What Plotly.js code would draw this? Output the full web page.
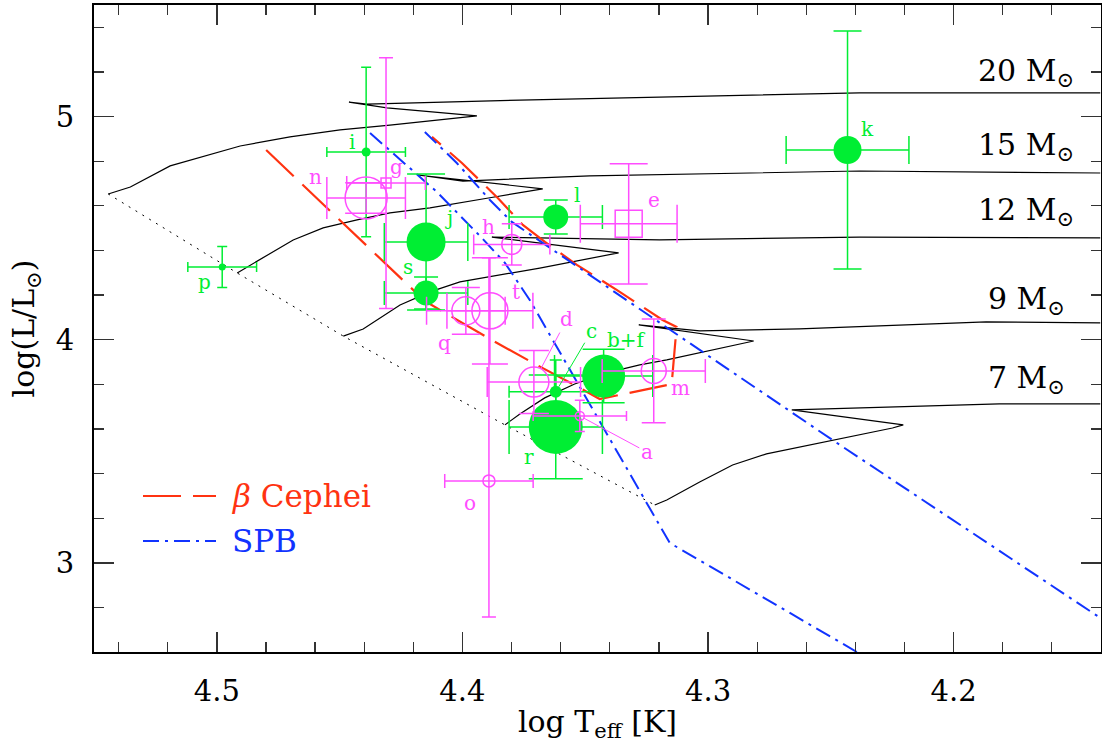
<!DOCTYPE html>
<html><head><meta charset="utf-8">
<script src="https://cdn.plot.ly/plotly-3.0.1.min.js"></script>
<style>html,body{margin:0;padding:0;background:#fff}#chart{width:1102px;height:743px}</style>
</head><body><div id="chart"></div>
<script>
// ===================== DATA =====================
// Evolutionary tracks (log Teff, log L/Lsun)
const track20T = [4.5442, 4.5352, 4.5190, 4.4905, 4.4702, 4.4498, 4.4295, 4.4173, 4.3941, 4.4307, 4.4462, 4.4389, 4.3766, 4.2383, 4.1403];
const track20L = [4.653, 4.684, 4.779, 4.868, 4.909, 4.940, 4.962, 4.976, 5.003, 5.039, 5.065, 5.056, 5.074, 5.106, 5.106];
const track15T = [4.4917, 4.4811, 4.4689, 4.4567, 4.4429, 4.4295, 4.4132, 4.3888, 4.3673, 4.4181, 4.3998, 4.3482, 4.2383, 4.1403];
const track15L = [4.299, 4.367, 4.447, 4.501, 4.537, 4.568, 4.591, 4.636, 4.676, 4.738, 4.711, 4.734, 4.756, 4.747];
const track12T = [4.4485, 4.4404, 4.4254, 4.4132, 4.4010, 4.3685, 4.3364, 4.3880, 4.3197, 4.2383, 4.1403];
const track12L = [4.016, 4.048, 4.155, 4.214, 4.259, 4.321, 4.389, 4.460, 4.447, 4.460, 4.456];
const track9T = [4.3827, 4.3766, 4.3665, 4.3543, 4.3413, 4.3278, 4.3168, 4.3034, 4.2843, 4.2814, 4.3282, 4.3034, 4.2628, 4.1868, 4.1403];
const track9L = [3.618, 3.667, 3.739, 3.801, 3.851, 3.887, 3.909, 3.940, 3.985, 3.994, 4.066, 4.039, 4.048, 4.080, 4.075];
const track7T = [4.3217, 4.3168, 4.3034, 4.2900, 4.2762, 4.2628, 4.2493, 4.2355, 4.2249, 4.2205, 4.2493, 4.2659, 4.1814, 4.1403];
const track7L = [3.259, 3.281, 3.362, 3.438, 3.488, 3.519, 3.550, 3.582, 3.604, 3.618, 3.662, 3.685, 3.712, 3.712];
const massLabels = ['20', '15', '12', '9', '7'];

// Instability strips
const betaCepT = [4.4799, 4.4153, 4.3888, 4.3713, 4.3522, 4.3441, 4.3148, 4.3128, 4.3185, 4.3372, 4.3534, 4.3664, 4.3754, 4.3856, 4.4002, 4.4124];
const betaCepL = [4.850, 4.173, 4.003, 3.896, 3.784, 3.734, 3.801, 4.057, 4.088, 4.223, 4.335, 4.438, 4.514, 4.635, 4.792, 4.909];
const spbHotT = [4.4376, 4.4104, 4.3921, 4.3827, 4.3726, 4.3156, 4.2394];
const spbHotL = [4.926, 4.662, 4.456, 4.344, 4.178, 3.089, 2.600];
const spbCoolT = [4.4153, 4.4023, 4.3888, 4.3799, 4.3034, 4.2493, 4.1403];
const spbCoolL = [4.931, 4.792, 4.626, 4.528, 3.954, 3.550, 2.753];

// Stars (green, filled)
const greenNames = ['i', 'j', 's', 'p', 'l', 'k', 'c', 'r', 'b+f'];
const greenT     = [4.4392, 4.4148, 4.4148, 4.4978, 4.3620, 4.2432, 4.3620, 4.3620, 4.3425];
const greenL     = [4.841, 4.438, 4.209, 4.326, 4.550, 4.850, 3.766, 3.609, 3.837];
const greenTerr  = [0.016, 0.017, 0.017, 0.014, 0.019, 0.025, 0.019, 0.019, 0.020];
const greenLerr  = [0.380, 0.305, 0.072, 0.092, 0.076, 0.533, 0.143, 0.233, 0.120];

// Stars (magenta, open)
const magNames   = ['n', 'g', 'h', 'e', 't', 'q', 'o', 'd', 'a', 'm'];
const magT       = [4.4392, 4.4311, 4.3799, 4.3323, 4.3888, 4.3986, 4.3892, 4.3709, 4.3522, 4.3221];
const magL       = [4.635, 4.702, 4.427, 4.519, 4.129, 4.129, 3.367, 3.810, 3.658, 3.860];
const magTerr    = [0.016, 0.016, 0.0155, 0.0197, 0.0175, 0.016, 0.018, 0.019, 0.019, 0.021];
const magLerrUp  = [0.068, 0.562, 0.092, 0.269, 0.238, 0.105, 1.000, 0.141, 0.070, 0.233];
const magLerrDn  = [0.068, 0.562, 0.092, 0.269, 0.238, 0.105, 0.610, 0.141, 0.070, 0.233];

// ===================== STYLE =====================
const FONT = 'DejaVu Serif';
const GREEN = '#00ee33', MAG = '#ff4dff', RED = '#ff3311', BLUE = '#1133ff';
// marker size (px), cap half-width (px), label offset [dx, dy(up)], optional pointer standoff
const starStyle = {
  'i': {size: 9, cap: 5, lab: [-14, 10]},
  'j': {size: 39, cap: 19, lab: [23, 24]},
  's': {size: 25, cap: 12, lab: [-18, 26]},
  'p': {size: 7, cap: 5, lab: [-18, -15]},
  'l': {size: 25, cap: 12, lab: [21, 22]},
  'k': {size: 28, cap: 14, lab: [20, 21]},
  'c': {size: 12, cap: 6, lab: [36, 61], arrow: 6},
  'r': {size: 54, cap: 27, lab: [-27, -30]},
  'b+f': {size: 43, cap: 21, lab: [23, 36]},
  'n': {size: 42, cap: 21, lab: [-51, 21]},
  'g': {size: 10, cap: 7, lab: [10, 16], symbol: 'square-open'},
  'h': {size: 20, cap: 10, lab: [-23, 17]},
  'e': {size: 27, cap: 19, lab: [25, 24], symbol: 'square-open'},
  't': {size: 36, cap: 18, lab: [26, 19]},
  'q': {size: 28, cap: 14, lab: [-21, -32]},
  'o': {size: 12, cap: 7, lab: [-19, -22]},
  'd': {size: 30, cap: 15, lab: [33, 63], arrow: 16},
  'a': {size: 9, cap: 5, lab: [67, -36], arrow: 4},
  'm': {size: 25, cap: 12, lab: [27, -17]}
};
const massLabelShift = [20, 27, 26, 22, 24];

const traces = [];
const annotations = [];

// Tracks
const tracks = [[track20T, track20L], [track15T, track15L], [track12T, track12L], [track9T, track9L], [track7T, track7L]];
tracks.forEach(([T, L]) => {
  traces.push({x: T, y: L, mode: 'lines', line: {color: '#000', width: 1.2}, hoverinfo: 'skip'});
});
// ZAMS through starting points of the tracks
traces.push({x: tracks.map(t => t[0][0]), y: tracks.map(t => t[1][0]), mode: 'lines',
  line: {color: '#000', width: 1, dash: '2px,6px'}, hoverinfo: 'skip'});

// Strips
traces.push({x: betaCepT, y: betaCepL, mode: 'lines', line: {color: RED, width: 2.2, dash: '38px,12px'}});
traces.push({x: spbHotT, y: spbHotL, mode: 'lines', line: {color: BLUE, width: 2, dash: '16px,6px,3px,6px'}});
traces.push({x: spbCoolT, y: spbCoolL, mode: 'lines', line: {color: BLUE, width: 2, dash: '16px,6px,3px,6px'}});

function addStar(name, T, L, Terr, up, dn, color, filled) {
  const st = starStyle[name];
  traces.push({
    x: [T], y: [L], mode: 'markers',
    marker: {symbol: st.symbol || (filled ? 'circle' : 'circle-open'), size: st.size, color: color,
             line: {color: color, width: filled ? 0 : 1.5}},
    error_x: {type: 'data', array: [Terr], color: color, thickness: 1.5, width: st.cap},
    error_y: {type: 'data', symmetric: false, array: [up], arrayminus: [dn], color: color, thickness: 1.5, width: st.cap}
  });
  const ann = {x: T, y: L, xref: 'x', yref: 'y', text: name, font: {family: FONT, size: 20, color: color}};
  if (st.arrow !== undefined) {
    Object.assign(ann, {showarrow: true, ax: st.lab[0], ay: -st.lab[1], arrowhead: 0, arrowwidth: 1,
      arrowcolor: color, standoff: st.arrow});
  } else {
    Object.assign(ann, {showarrow: false, xshift: st.lab[0], yshift: st.lab[1]});
  }
  annotations.push(ann);
}
greenNames.forEach((n, k) => addStar(n, greenT[k], greenL[k], greenTerr[k], greenLerr[k], greenLerr[k], GREEN, true));
magNames.forEach((n, k) => addStar(n, magT[k], magL[k], magTerr[k], magLerrUp[k], magLerrDn[k], MAG, false));

// Mass labels at the right end of each track
tracks.forEach(([T, L], k) => {
  annotations.push({x: k < 3 ? 4.1501 : 4.1538, y: L[L.length - 1], xref: 'x', yref: 'y', xanchor: 'right', yanchor: 'middle',
    yshift: massLabelShift[k], showarrow: false, text: massLabels[k] + ' M<sub>⊙</sub>',
    font: {family: FONT, size: 30, color: '#000'}});
});

// Legend (drawn manually)
const legY1 = (652 - 496) / 647, legY2 = (652 - 541) / 647;
const legX0 = (143 - 94) / 1007, legX1 = (216 - 94) / 1007, legXt = (230 - 94) / 1007;
const shapes = [
  {type: 'line', xref: 'paper', yref: 'paper', x0: legX0, x1: legX1, y0: legY1, y1: legY1, line: {color: RED, width: 2.2, dash: '38px,12px'}},
  {type: 'line', xref: 'paper', yref: 'paper', x0: legX0, x1: legX1, y0: legY2, y1: legY2, line: {color: BLUE, width: 2, dash: '16px,6px,3px,6px'}}
];
annotations.push({xref: 'paper', yref: 'paper', x: legXt, y: legY1, xanchor: 'left', yanchor: 'middle', showarrow: false,
  text: '<i>β</i> Cephei', font: {family: FONT, size: 31, color: RED}});
annotations.push({xref: 'paper', yref: 'paper', x: legXt, y: legY2, xanchor: 'left', yanchor: 'middle', showarrow: false,
  text: 'SPB', font: {family: FONT, size: 31, color: BLUE}});

const axisCommon = {
  showline: true, linewidth: 2, linecolor: '#000', mirror: 'allticks', ticks: 'inside', ticklen: 20, tickwidth: 1.5,
  tickcolor: '#333', showgrid: false, zeroline: false, tickfont: {family: FONT, size: 29, color: '#000'}
};
const layout = {
  width: 1102, height: 743, margin: {l: 94, r: 1, t: 5, b: 91},
  paper_bgcolor: '#fff', plot_bgcolor: '#fff', showlegend: false, hovermode: false,
  xaxis: Object.assign({}, axisCommon, {
    range: [4.55, 4.14], dtick: 0.1, tick0: 4.0, tickformat: '.1f', ticklabelstandoff: 12,
    minor: {dtick: 0.02, ticks: 'inside', ticklen: 10, tickwidth: 1.2, tickcolor: '#333'},
    title: {text: 'log T<sub>eff</sub> [K]', font: {family: FONT, size: 30, color: '#000'}, standoff: 16}
  }),
  yaxis: Object.assign({}, axisCommon, {
    range: [2.6, 5.5], dtick: 1, tick0: 0, ticklabelstandoff: 12,
    minor: {dtick: 0.2, ticks: 'inside', ticklen: 10, tickwidth: 1.2, tickcolor: '#333'},
    title: {text: 'log(L/L<sub>⊙</sub>)', font: {family: FONT, size: 30, color: '#000'}, standoff: 12}
  }),
  shapes: shapes, annotations: annotations
};
Plotly.newPlot('chart', traces, layout, {staticPlot: true, displayModeBar: false});
</script></body></html>
